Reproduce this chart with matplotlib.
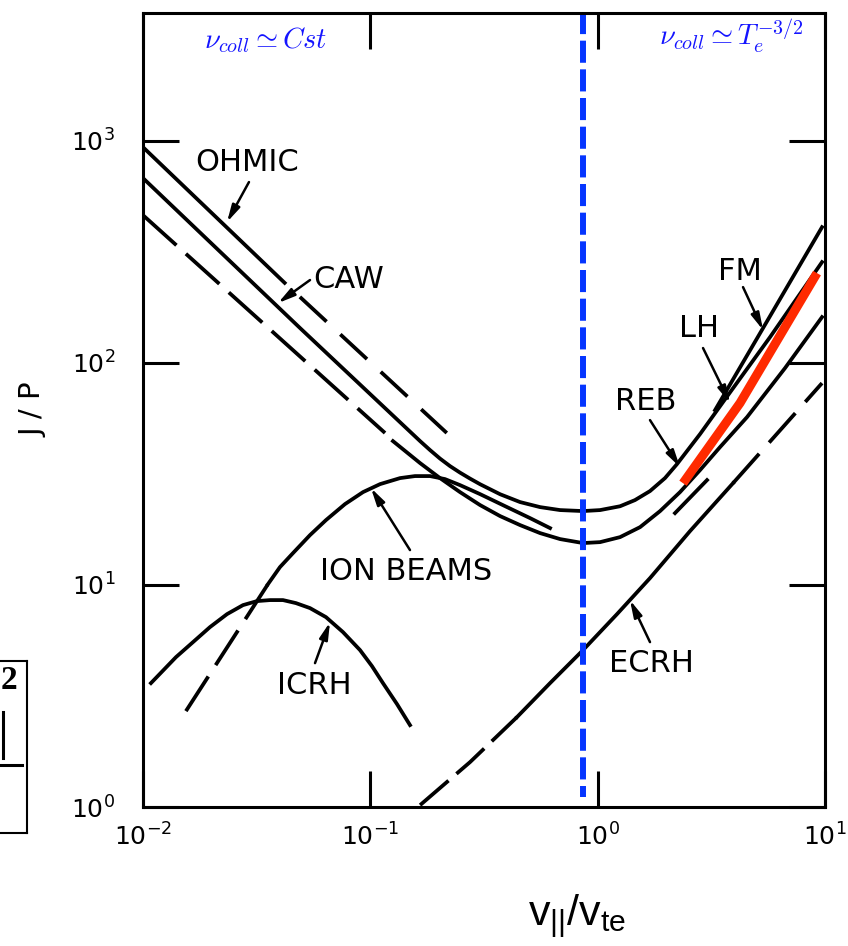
import matplotlib.pyplot as plt
from matplotlib.lines import Line2D
from matplotlib.ticker import NullLocator

# J/P versus v_par/v_te for the different current drive schemes (log-log)

ohmic_x = [0.01, 0.042]
ohmic_y = [935, 229]
ohmic_dash_x = [0.049, 0.217]
ohmic_dash_y = [198, 48.3]

# CAW at low velocity, running into the upper U and on to LH
upper_x = [0.01, 0.0491, 0.1656, 0.1832, 0.2026, 0.2242, 0.2481, 0.2746, 0.304, 0.3724,
           0.456, 0.5584, 0.6839, 0.863, 1.025, 1.255, 1.460, 1.700, 1.979, 2.235,
           2.822, 3.562, 5.735, 9.71]
upper_y = [678.5, 143.3, 44.4, 40.45, 37.05, 34.27, 32.03, 30.11, 28.4, 25.6,
           23.6, 22.4, 21.72, 21.5, 21.72, 22.6, 24.09, 26.45, 30.26, 34.99,
           47.75, 66.55, 130.5, 284]

fm_x = [3.285, 5.343, 9.71]
fm_y = [61.2, 143.3, 408]

lower_dash_x = [0.01, 0.1161]
lower_dash_y = [462, 48.3]
lower_x = [0.1258, 0.1656, 0.2026, 0.2481, 0.304, 0.3724, 0.456, 0.5584, 0.6839, 0.863,
           1.025, 1.255, 1.537, 1.882, 2.304, 2.822, 3.456, 4.543, 6.675, 9.71]
lower_y = [44.4, 35.35, 30.26, 26.17, 22.88, 20.41, 18.59, 17.11, 16.08, 15.43,
           15.58, 16.41, 18.2, 21.49, 26.17, 32.88, 41.73, 56.95, 94.65, 160.6]

ion_dash_x = [0.01545, 0.03547]
ion_dash_y = [2.703, 10.08]
ion_x = [0.03547, 0.04006, 0.04571, 0.0543, 0.06384, 0.07739, 0.0929, 0.1104, 0.1352,
         0.1573, 0.1832, 0.2131, 0.2481, 0.304, 0.3914, 0.5043, 0.6177]
ion_y = [10.08, 12.03, 13.91, 16.76, 19.58, 23.11, 26.17, 28.43, 30.26,
         30.9, 30.9, 29.95, 28.14, 25.63, 22.63, 19.99, 18.02]

icrh_x = [0.01084, 0.01397, 0.0166, 0.01971, 0.02343, 0.02754, 0.03173, 0.03622, 0.04129,
          0.0471, 0.0543, 0.06384, 0.07583, 0.0901, 0.1017, 0.1137, 0.1311, 0.1495]
icrh_y = [3.613, 4.73, 5.527, 6.457, 7.387, 8.11, 8.455, 8.544, 8.544,
          8.28, 7.863, 7.16, 6.131, 5.09, 4.31, 3.613, 2.906, 2.338]

ecrh_low_x = [0.1656, 0.2746, 0.4418]
ecrh_low_y = [1.02, 1.593, 2.54]
ecrh_x = [0.4418, 0.6177, 0.863, 1.217, 1.700, 2.550, 3.941]
ecrh_y = [2.54, 3.613, 5.09, 7.387, 10.73, 17.47, 28.7]
ecrh_high_x = [3.941, 9.71]
ecrh_high_y = [28.7, 81.0]

short_dash_x = [2.190, 3.029]
short_dash_y = [21.05, 29.64]

red_x = [2.375, 4.232, 9.23]
red_y = [28.7, 65.9, 253.4]

v_split = 0.863
split_y = [3790, 1.108]

x_ticks = [1e-2, 1e-1, 1e0, 1e1]
x_tick_labels = [r'$10^{-2}$', r'$10^{-1}$', r'$10^{0}$', r'$10^{1}$']
y_ticks = [1e0, 1e1, 1e2, 1e3]
y_tick_labels = [r'$10^{0}$', r'$10^{1}$', r'$10^{2}$', r'$10^{3}$']

# (label, text position, arrow tail, arrow tip)
labels = [
    ('OHMIC', (0.02868, 801), (0.02926, 651), (0.02343, 430)),
    ('CAW', (0.0806, 238.2), (0.0543, 235.8), (0.03926, 185.7)),
    ('ION BEAMS', (0.1435, 11.54), (0.1495, 14.35), (0.1007, 27.28)),
    ('ICRH', (0.05654, 3.539), (0.05712, 4.445), (0.06648, 6.80)),
    ('ECRH', (1.717, 4.445), (1.700, 5.527), (1.388, 8.54)),
    ('REB', (1.633, 67.2), (1.700, 55.2), (2.304, 33.9)),
    ('LH', (2.793, 143.3), (2.909, 116.5), (3.824, 65.9)),
    ('FM', (4.232, 258.8), (4.362, 219.1), (5.343, 140.4)),
]

fig = plt.figure(figsize=(8.48, 9.46), dpi=100)
ax = fig.add_axes([0.1686, 0.1469, 0.8042, 0.8393])
ax.set_xscale('log')
ax.set_yscale('log')
ax.set_xlim(1e-2, 1e1)
ax.set_ylim(1, 3754)

lw = 2.7
ax.plot(ohmic_x, ohmic_y, color='black', lw=lw)
ax.plot(ohmic_dash_x, ohmic_dash_y, color='black', lw=lw, dashes=(9.7, 5.0))
ax.plot(upper_x, upper_y, color='black', lw=lw)
ax.plot(fm_x, fm_y, color='black', lw=lw)
ax.plot(lower_dash_x, lower_dash_y, color='black', lw=lw, dashes=(12.0, 3.4))
ax.plot(lower_x, lower_y, color='black', lw=lw)
ax.plot(ion_dash_x, ion_dash_y, color='black', lw=lw, dashes=(11.0, 3.6))
ax.plot(ion_x, ion_y, color='black', lw=lw)
ax.plot(icrh_x, icrh_y, color='black', lw=lw)
ax.plot(ecrh_low_x, ecrh_low_y, color='black', lw=lw, dashes=(10.0, 2.8))
ax.plot(ecrh_x, ecrh_y, color='black', lw=lw)
ax.plot(ecrh_high_x, ecrh_high_y, color='black', lw=lw, dashes=(10.5, 4.0))
ax.plot(short_dash_x, short_dash_y, color='black', lw=lw)

ax.plot(red_x, red_y, color='#ff2a00', lw=6.5, solid_capstyle='butt', solid_joinstyle='miter')
ax.plot([v_split, v_split], split_y, color='#0535ff', lw=4.3, dashes=(3.7, 1.1))

for name, text_pos, tail, tip in labels:
    ax.text(*text_pos, name, fontsize=22, ha='center', va='center', family='DejaVu Sans')
    ax.annotate('', xy=tip, xytext=tail,
                arrowprops=dict(arrowstyle='-|>,head_length=1.0,head_width=0.25',
                                color='black', lw=1.8, shrinkA=0, shrinkB=0))

ax.text(0.18, 0.966, r'$\nu_{coll} \simeq Cst$', transform=ax.transAxes, color='#1414ff',
        fontsize=20.5, ha='center', va='center', math_fontfamily='cm')
ax.text(0.862, 0.971, r'$\nu_{coll} \simeq T_e^{-3/2}$', transform=ax.transAxes, color='#1414ff',
        fontsize=20.5, ha='center', va='center', math_fontfamily='cm')

ax.set_xticks(x_ticks, x_tick_labels, fontsize=18)
ax.set_yticks(y_ticks, y_tick_labels, fontsize=18)
ax.xaxis.set_minor_locator(NullLocator())
ax.yaxis.set_minor_locator(NullLocator())
ax.tick_params(direction='in', top=True, right=True, length=26, width=2.2)
ax.tick_params(axis='x', pad=12)
ax.tick_params(axis='y', pad=20)
for spine in ax.spines.values():
    spine.set_linewidth(2.2)

ax.set_ylabel('J / P', fontsize=21)
ax.yaxis.set_label_coords(-0.14, 0.5)
ax.set_xlabel(r'$\mathregular{v_{||}/v_{te}}$', fontsize=31, family='Liberation Sans')
ax.xaxis.set_label_coords(0.636, -0.108)

# piece of the neighbouring panel cut at the left edge
fig.add_artist(Line2D([0.0, 0.0318], [0.3013, 0.3013], color='black', lw=1.5))
fig.add_artist(Line2D([0.0318, 0.0318], [0.3013, 0.1195], color='black', lw=1.5))
fig.add_artist(Line2D([0.0, 0.0318], [0.1195, 0.1195], color='black', lw=1.5))
fig.add_artist(Line2D([0.0035, 0.0035], [0.2474, 0.1987], color='black', lw=2.2))
fig.add_artist(Line2D([0.0, 0.026], [0.1913, 0.1913], color='black', lw=2.2))
fig.text(0.001, 0.281, '2', fontsize=24, family='Liberation Serif', weight='bold',
         ha='left', va='center')

fig.savefig('out.png', dpi=100)
